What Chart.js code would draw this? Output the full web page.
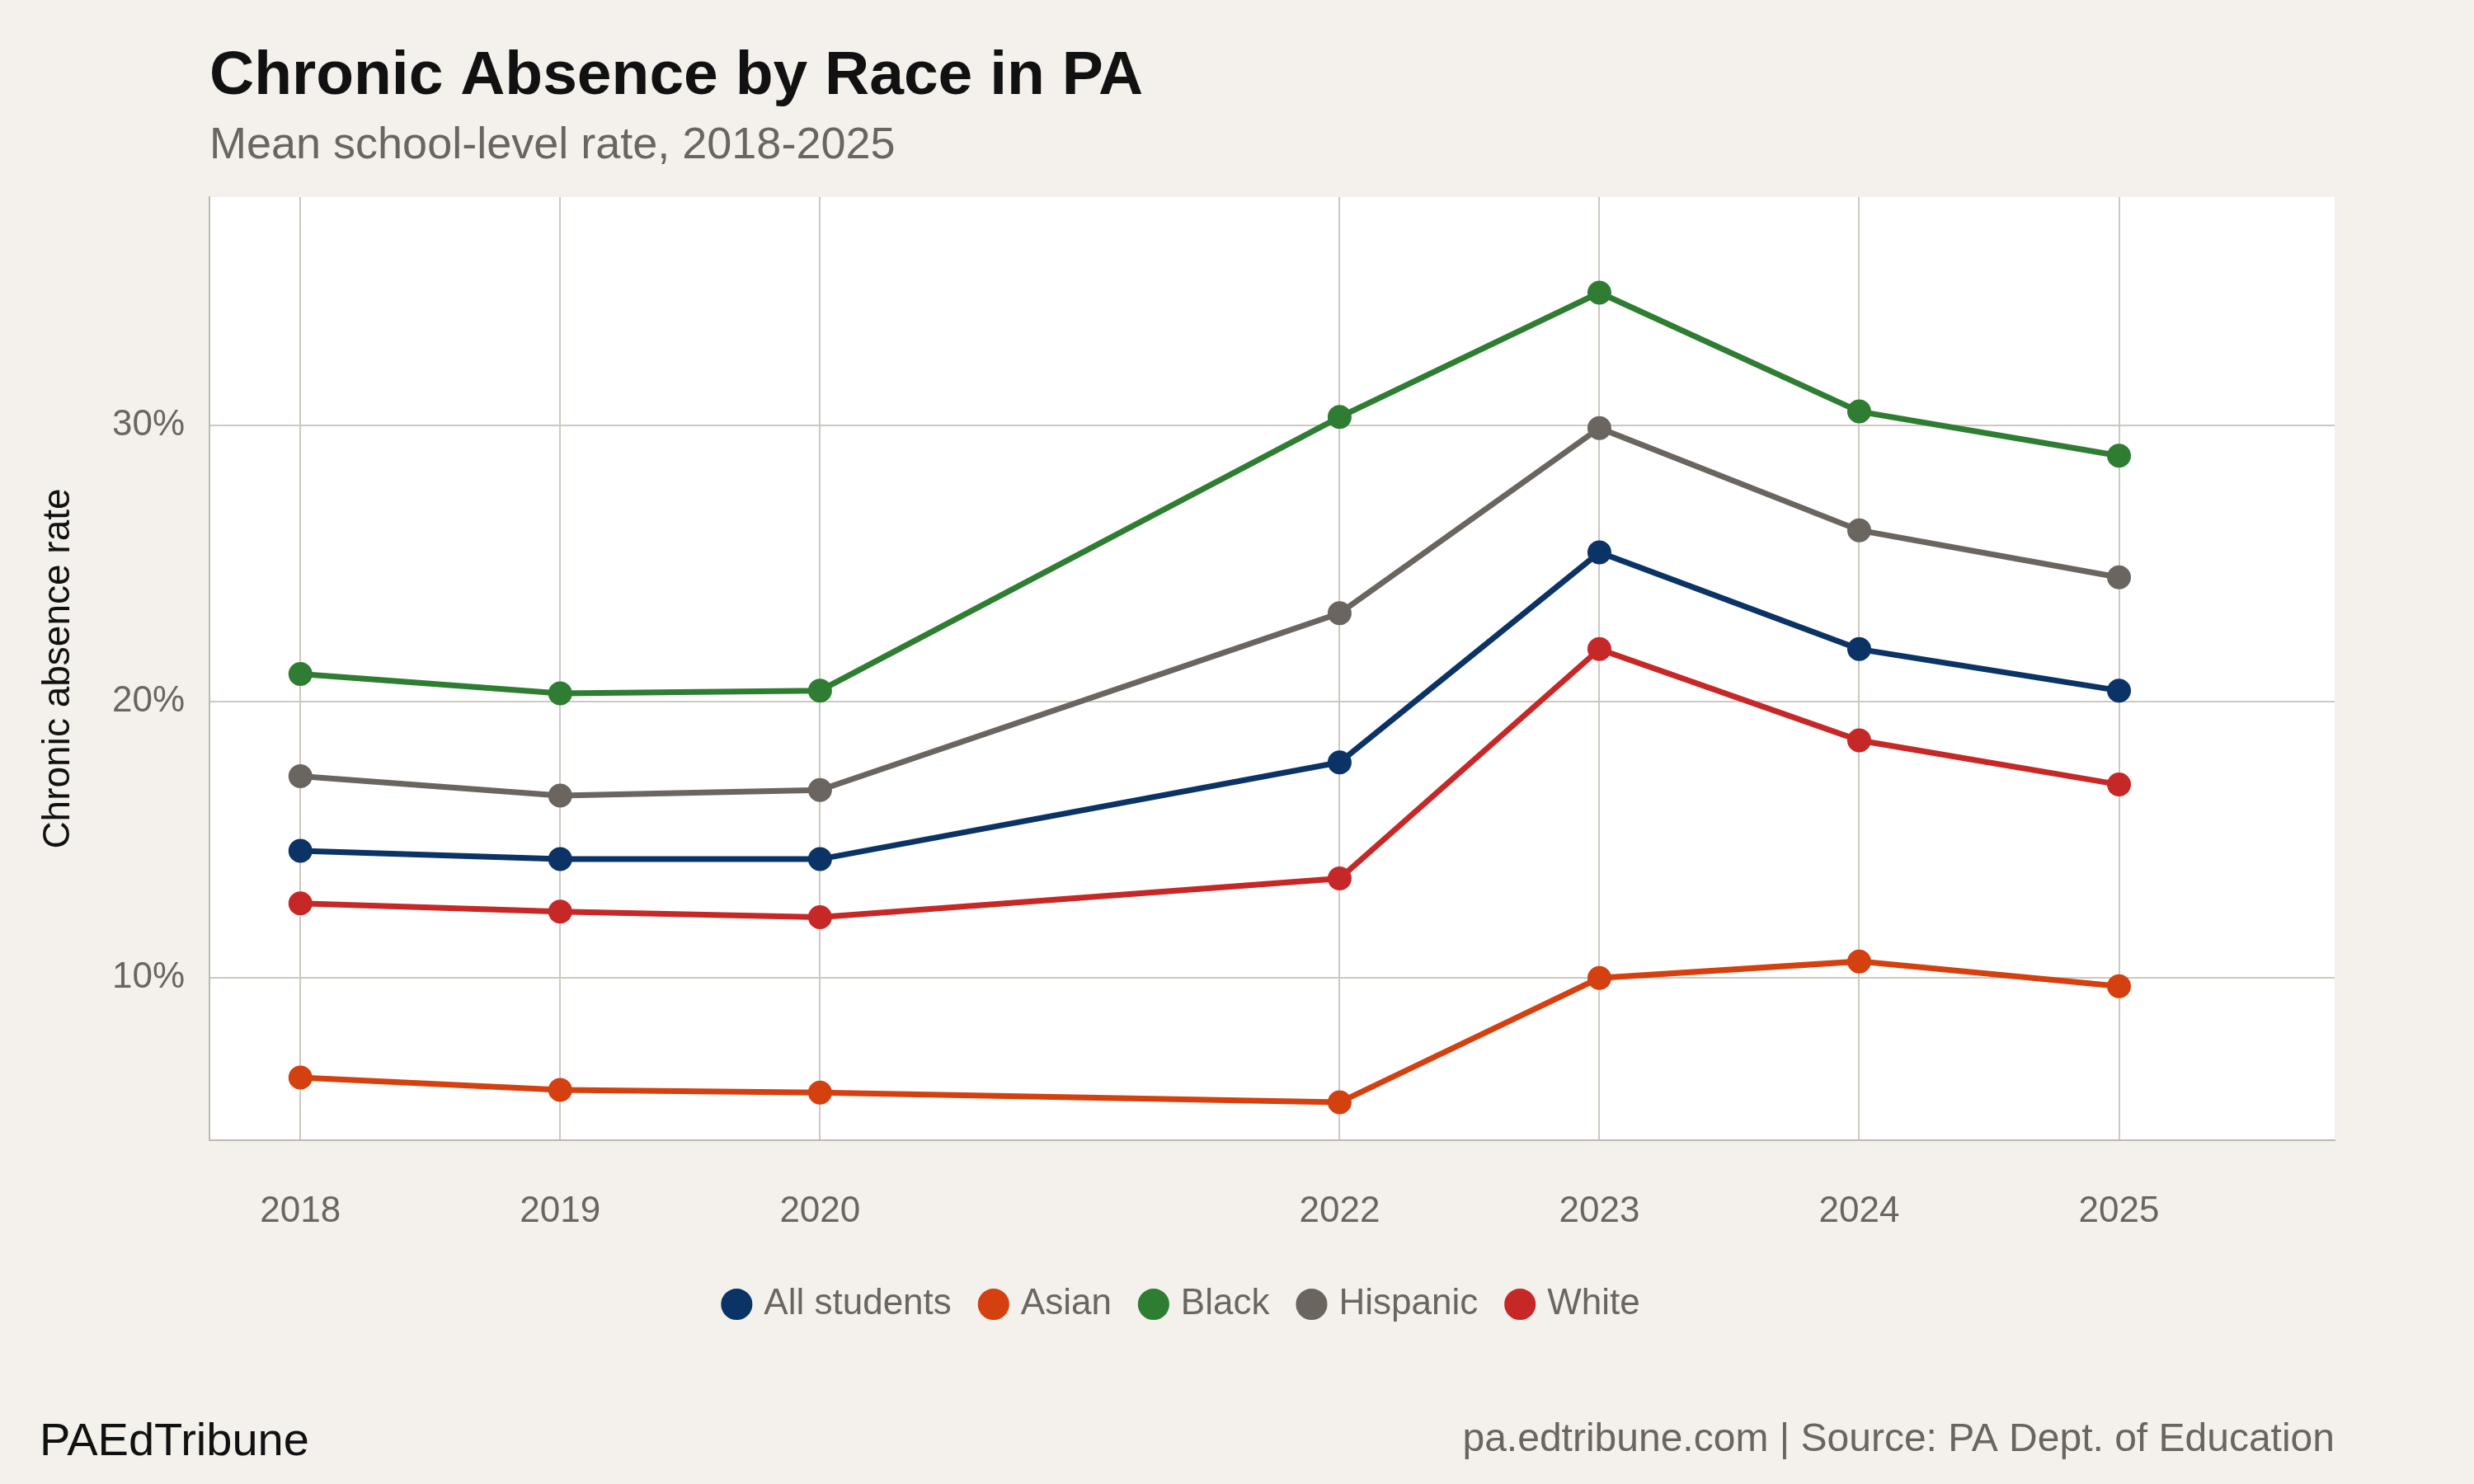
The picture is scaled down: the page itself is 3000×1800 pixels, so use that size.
<!DOCTYPE html>
<html>
<head>
<meta charset="utf-8">
<script src="https://cdn.jsdelivr.net/npm/chart.js@4/dist/chart.umd.min.js"></script>
<style>
  html, body { margin: 0; padding: 0; background: #f4f1ec; }
  #wrap { width: 3000px; height: 1800px; }
</style>
</head>
<body>
<div id="wrap"><canvas id="chart" width="3000" height="1800"></canvas></div>
<script>
const years = [2018, 2019, 2020, 2022, 2023, 2024, 2025];
const yTicks = [10, 20, 30];

const allStudents = [14.6, 14.3, 14.3, 17.8, 25.4, 21.9, 20.4];
const asian = [6.4, 5.95, 5.85, 5.5, 10.0, 10.6, 9.7];
const black = [21.0, 20.3, 20.4, 30.3, 34.8, 30.5, 28.9];
const hispanic = [17.3, 16.6, 16.8, 23.2, 29.9, 26.2, 24.5];
const white = [12.7, 12.4, 12.2, 13.6, 21.9, 18.6, 17.0];

const font = 'Liberation Sans, Arial, sans-serif';

function series(label, values, color) {
  return {
    label: label,
    data: values.map((v, i) => ({ x: years[i], y: v })),
    borderColor: color,
    backgroundColor: color,
    borderWidth: 7,
    pointRadius: 11,
    pointHoverRadius: 11,
    tension: 0
  };
}

// white plot panel plus titles and footer
const decor = {
  id: 'decor',
  beforeDraw(chart) {
    const { ctx, chartArea: a } = chart;
    ctx.save();
    ctx.fillStyle = '#f4f1ec';
    ctx.fillRect(0, 0, chart.width, chart.height);
    ctx.fillStyle = '#ffffff';
    ctx.fillRect(a.left, a.top, a.right - a.left, a.bottom - a.top);
    ctx.restore();
  },
  afterDraw(chart) {
    const { ctx, chartArea: a } = chart;
    ctx.save();
    ctx.textBaseline = 'alphabetic';
    ctx.textAlign = 'left';
    ctx.fillStyle = '#111111';
    ctx.font = 'bold 75px ' + font;
    ctx.fillText('Chronic Absence by Race in PA', 254, 114);
    ctx.fillStyle = '#6b6560';
    ctx.font = '54px ' + font;
    ctx.fillText('Mean school-level rate, 2018-2025', 254, 192);
    ctx.fillStyle = '#111111';
    ctx.font = '56px ' + font;
    ctx.fillText('PAEdTribune', 48, 1765);
    ctx.textAlign = 'right';
    ctx.fillStyle = '#6b6560';
    ctx.font = '48px ' + font;
    ctx.fillText('pa.edtribune.com | Source: PA Dept. of Education', a.right, 1760);
    ctx.restore();
  }
};

new Chart(document.getElementById('chart'), {
  type: 'line',
  data: {
    datasets: [
      series('All students', allStudents, '#0b3366'),
      series('Asian', asian, '#d4400f'),
      series('Black', black, '#2e7d32'),
      series('Hispanic', hispanic, '#6b6560'),
      series('White', white, '#c62828')
    ]
  },
  options: {
    responsive: false,
    animation: false,
    devicePixelRatio: 1,
    layout: { padding: { top: 239, left: 40, right: 169, bottom: 186 } },
    plugins: {
      legend: {
        position: 'bottom',
        labels: {
          usePointStyle: true,
          pointStyle: 'circle',
          boxWidth: 22,
          boxHeight: 22,
          padding: 40,
          color: '#6b6560',
          font: { family: font, size: 44 }
        }
      },
      tooltip: { enabled: false }
    },
    scales: {
      x: {
        type: 'linear',
        min: 2017.65,
        max: 2025.83,
        afterBuildTicks(scale) { scale.ticks = years.map(v => ({ value: v })); },
        afterFit(scale) { scale.height = 137; },
        ticks: {
          color: '#6b6560',
          font: { family: font, size: 44 },
          padding: 60,
          callback: v => String(v)
        },
        grid: { color: '#cdc8c0', lineWidth: 2, drawTicks: false },
        border: { color: '#bdb8b0', width: 2 }
      },
      y: {
        min: 4.13,
        max: 38.26,
        afterBuildTicks(scale) { scale.ticks = yTicks.map(v => ({ value: v })); },
        afterFit(scale) { scale.width = 214; },
        ticks: {
          color: '#6b6560',
          font: { family: font, size: 44 },
          padding: 30,
          callback: v => v + '%'
        },
        title: {
          display: true,
          text: 'Chronic absence rate',
          color: '#111111',
          font: { family: font, size: 46 }
        },
        grid: { color: '#cdc8c0', lineWidth: 2, drawTicks: false },
        border: { color: '#bdb8b0', width: 2 }
      }
    }
  },
  plugins: [decor]
});
</script>
</body>
</html>
